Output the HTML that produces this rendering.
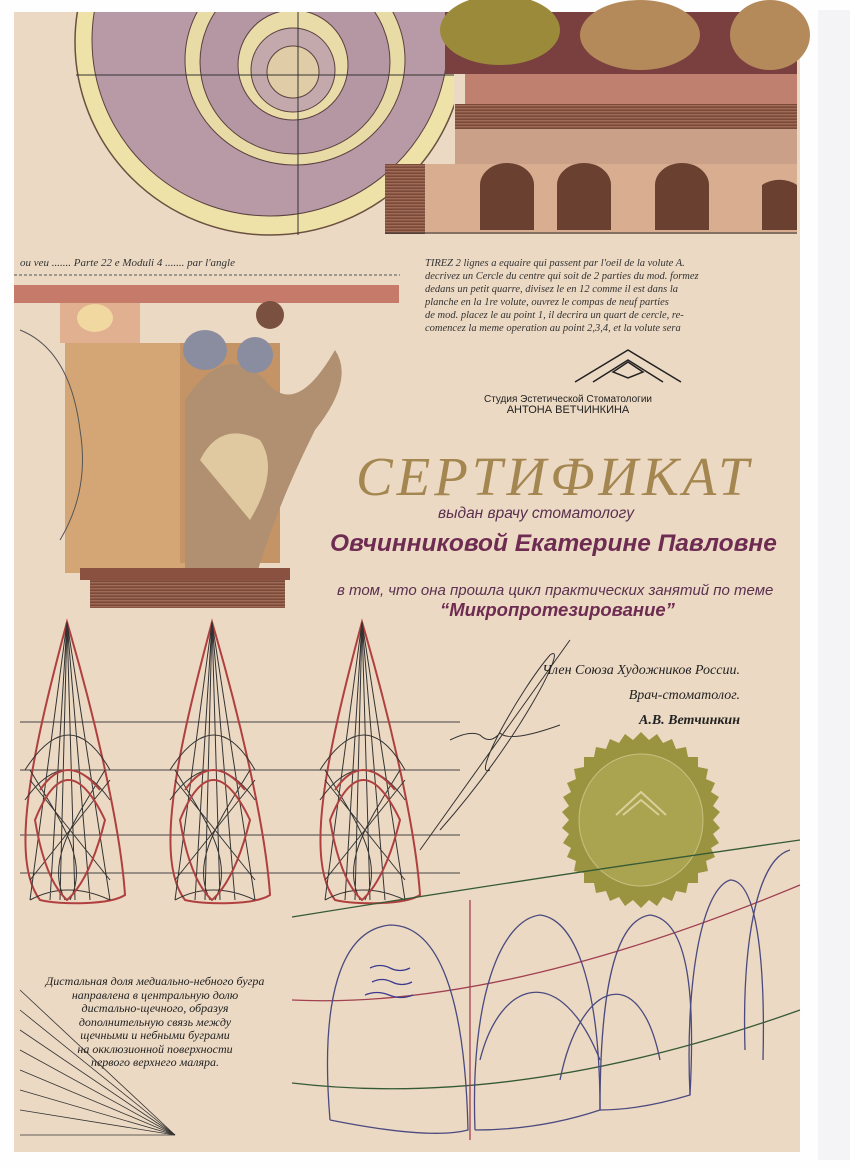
<!DOCTYPE html>
<html><head><meta charset="utf-8"><style>
html,body{margin:0;padding:0;background:#fff;}
body{width:850px;height:1169px;position:relative;overflow:hidden;font-family:"Liberation Sans",sans-serif;}
.t{position:absolute;white-space:nowrap;}
</style></head><body>
<svg width="850" height="1169" style="position:absolute;left:0;top:0">
<defs>
<pattern id="h" width="3" height="3" patternUnits="userSpaceOnUse"><rect width="3" height="3" fill="#7a4a3a"/><rect width="3" height="1.4" fill="#a06a55"/></pattern>
</defs>
<rect x="0" y="0" width="850" height="1169" fill="#fefefe"/>
<rect x="14" y="12" width="786" height="1140" fill="#ecd9c3"/>
<rect x="818" y="10" width="32" height="1150" fill="#f4f4f6"/>
<g>
<clipPath id="cc"><rect x="14" y="12" width="440" height="230"/></clipPath>
<g clip-path="url(#cc)">
<ellipse cx="270" cy="42" rx="195" ry="193" fill="#efe2a8" stroke="#6a5040" stroke-width="1.5"/>
<ellipse cx="270" cy="40" rx="178" ry="176" fill="#b79aa5" stroke="#5a4040"/>
<ellipse cx="295" cy="60" rx="110" ry="105" fill="#e9dba5" stroke="#5a4040"/>
<ellipse cx="295" cy="62" rx="95" ry="92" fill="#b497a2" stroke="#5a4040"/>
<ellipse cx="293" cy="65" rx="55" ry="55" fill="#eadca8" stroke="#5a4040"/>
<ellipse cx="293" cy="70" rx="42" ry="42" fill="#c3a9ac" stroke="#5a4040"/>
<ellipse cx="293" cy="72" rx="26" ry="26" fill="#e0cca6" stroke="#5a4040"/>
<line x1="76" y1="75" x2="465" y2="75" stroke="#333" stroke-width="1"/>
<line x1="298" y1="12" x2="298" y2="235" stroke="#333" stroke-width="1"/>
</g>
</g>
<rect x="445" y="12" width="352" height="62" fill="#7a4040"/>
<ellipse cx="500" cy="30" rx="60" ry="35" fill="#9a8a3a"/>
<ellipse cx="640" cy="35" rx="60" ry="35" fill="#b58a5a"/>
<ellipse cx="770" cy="35" rx="40" ry="35" fill="#b58a5a"/>
<rect x="465" y="74" width="332" height="30" fill="#c08070"/>
<rect x="455" y="104" width="342" height="25" fill="url(#h)"/>
<rect x="455" y="129" width="342" height="35" fill="#caa088"/>
<rect x="385" y="164" width="412" height="70" fill="#d9ae90"/>
<rect x="385" y="164" width="40" height="70" fill="url(#h)"/>
<g fill="#6a4030">
<path d="M480 230 V185 a27 22 0 0 1 54 0 V230Z"/>
<path d="M557 230 V185 a27 22 0 0 1 54 0 V230Z"/>
<path d="M655 230 V185 a27 22 0 0 1 54 0 V230Z"/>
<path d="M762 230 V185 a27 22 0 0 1 35 0 V230Z"/>
</g>
<line x1="385" y1="233" x2="797" y2="233" stroke="#333"/>
<rect x="14" y="285" width="385" height="18" fill="#c67a6a"/>
<line x1="14" y1="275" x2="400" y2="275" stroke="#555" stroke-dasharray="3 2"/>
<rect x="60" y="303" width="80" height="40" fill="#e0b090"/>
<ellipse cx="95" cy="318" rx="18" ry="14" fill="#f1d7a0"/>
<rect x="65" y="343" width="120" height="230" fill="#d4a676"/>
<rect x="180" y="343" width="100" height="220" fill="#c49466"/>
<path d="M185 400 q40 -60 80 -20 q30 40 70 -30 q20 30 -20 80 q-40 80 -60 150 h-70z" fill="#b09070"/>
<path d="M200 460 q20 -40 60 -20 q20 30 -10 80 z" fill="#e0c8a0"/>
<circle cx="270" cy="315" r="14" fill="#7a5040"/>
<ellipse cx="205" cy="350" rx="22" ry="20" fill="#8a8ca0"/>
<ellipse cx="255" cy="355" rx="18" ry="18" fill="#8a8ca0"/>
<rect x="80" y="568" width="210" height="12" fill="#8a5040"/>
<rect x="90" y="580" width="195" height="28" fill="url(#h)"/>
<path d="M20 330 q50 20 60 100 q10 60 -20 110" stroke="#555" fill="none"/>
<g fill="none" stroke-width="1">
<g stroke="#444">
<line x1="20" y1="722" x2="460" y2="722"/><line x1="20" y1="770" x2="460" y2="770"/><line x1="20" y1="835" x2="460" y2="835"/><line x1="20" y1="873" x2="460" y2="873"/>
</g>
<g id="c1">
<path d="M67 622 C30 760 10 860 40 900 C60 905 110 905 125 895 C120 820 90 700 67 622Z" stroke="#b04040" stroke-width="2"/>
<path d="M67 622 L30 900 M67 622 L110 900 M67 622 L50 900 M67 622 L90 900 M67 622 L60 900 M67 622 L75 900 M30 780 L110 880 M110 780 L30 880 M25 800 Q67 740 110 800 M25 770 Q70 700 110 770 M30 770 C60 820 90 860 70 900 M105 770 C75 820 45 860 65 900 M30 900 Q67 880 110 900" stroke="#333"/>
<path d="M35 820 Q67 740 105 820 Q90 880 67 900 Q45 880 35 820Z" stroke="#b04040" stroke-width="2"/>
<path d="M40 790 Q67 750 100 790" stroke="#b04040" stroke-width="2"/>
</g>
<use href="#c1" x="145"/>
<use href="#c1" x="295"/>
</g>
<path d="M420 850 L570 640 M440 830 C520 740 570 640 550 655 C520 690 470 780 490 770 M450 740 q20 -10 30 -5 q10 10 20 -2 q10 10 60 -8" stroke="#333" fill="none" stroke-width="1"/>
<g transform="translate(641,820)">
<polygon fill="#9a9440" points="
0,-88 8,-80 16,-86 22,-77 31,-81 35,-71 45,-73 47,-63 57,-63 57,-53 67,-51 65,-41 74,-37 70,-28 78,-23 72,-14 79,-8 72,0 79,8 72,14 78,23 70,28 74,37 65,41 67,51 57,53 57,63 47,63 45,73 35,71 31,81 22,77 16,86 8,80 0,88 -8,80 -16,86 -22,77 -31,81 -35,71 -45,73 -47,63 -57,63 -57,53 -67,51 -65,41 -74,37 -70,28 -78,23 -72,14 -79,8 -72,0 -79,-8 -72,-14 -78,-23 -70,-28 -74,-37 -65,-41 -67,-51 -57,-53 -57,-63 -47,-63 -45,-73 -35,-71 -31,-81 -22,-77 -16,-86 -8,-80"/>
<ellipse rx="62" ry="66" fill="#aaa350" stroke="#c8c080"/>
<path d="M-25 -5 L0 -28 L25 -5 M-18 -5 L0 -20 L18 -5" stroke="#d8d098" fill="none" stroke-width="2"/>
</g>
<g fill="none" stroke-width="1.3">
<path d="M292 917 Q520 880 800 840" stroke="#355a35"/>
<path d="M292 1000 Q500 1010 800 885" stroke="#a04050"/>
<path d="M292 1083 Q520 1110 800 1010" stroke="#355a35"/>
<line x1="470" y1="900" x2="470" y2="1140" stroke="#a04050"/>
<g stroke="#4a4a80">
<path d="M330 1120 C320 1000 340 930 390 925 C440 925 465 1000 468 1130 Q430 1140 330 1120"/>
<path d="M475 1130 C470 1000 500 920 540 915 C580 920 600 1000 600 1110 Q540 1130 475 1130"/>
<path d="M600 1110 C600 990 615 920 650 915 C690 920 695 1000 690 1095 Q640 1110 600 1110"/>
<path d="M690 1095 C685 990 700 890 730 880 C760 880 765 980 763 1060"/>
<path d="M745 1050 C742 950 755 860 790 850"/>
<path d="M480 1060 C500 980 560 960 600 1060 M560 1080 C580 980 640 960 660 1060"/>
</g>
<path d="M370 968 q10 -5 20 0 q10 5 20 0 M372 982 q10 -5 20 0 q10 5 20 0 M365 995 q12 -5 24 0 q12 5 24 0" stroke="#3a3a90"/>
</g>
<g stroke="#333" stroke-width="0.8">
<line x1="175" y1="1135" x2="20" y2="990"/><line x1="175" y1="1135" x2="20" y2="1010"/><line x1="175" y1="1135" x2="20" y2="1030"/><line x1="175" y1="1135" x2="20" y2="1050"/><line x1="175" y1="1135" x2="20" y2="1070"/><line x1="175" y1="1135" x2="20" y2="1090"/><line x1="175" y1="1135" x2="20" y2="1110"/><line x1="175" y1="1135" x2="20" y2="1135"/>
</g>
</svg>

<div class="t" style="left:478px;top:348px;width:300px;text-align:center">
<svg width="110" height="36" viewBox="0 0 110 36"><path d="M2 34 L55 2 L108 34 M20 34 L55 12 L90 34 M40 24 L55 14 L70 24 L55 30Z" stroke="#222" fill="none" stroke-width="1.5"/></svg>
</div>
<div class="t" style="left:468px;top:395px;width:200px;text-align:center;font-size:10px;line-height:10px;color:#222">Студия Эстетической Стоматологии<br><span style="font-size:11px">АНТОНА ВЕТЧИНКИНА</span></div>
<div class="t" style="left:356px;top:445px;font-family:'Liberation Serif',serif;font-style:italic;font-size:55px;color:#a48650;letter-spacing:4px">СЕРТИФИКАТ</div>
<div class="t" style="left:438px;top:505px;font-style:italic;font-size:15.5px;color:#5a3050">выдан врачу стоматологу</div>
<div class="t" style="left:330px;top:530px;font-style:italic;font-weight:bold;font-size:24.5px;color:#6e2c52">Овчинниковой Екатерине Павловне</div>
<div class="t" style="left:337px;top:582px;font-style:italic;font-size:15px;color:#5a3050">в том, что она прошла цикл практических занятий по теме</div>
<div class="t" style="left:440px;top:599px;font-style:italic;font-weight:bold;font-size:18.5px;color:#6e2c52">“Микропротезирование”</div>
<div class="t" style="left:540px;top:658px;width:200px;text-align:right;font-family:'Liberation Serif',serif;font-style:italic;font-size:14px;color:#222;line-height:25px">Член Союза Художников России.<br>Врач-стоматолог.<br><b>А.В. Ветчинкин</b></div>
<div class="t" style="left:20px;top:257px;font-family:'Liberation Serif',serif;font-style:italic;font-size:11px;color:#333">ou veu ....... Parte 22 e Moduli 4 ....... par l'angle</div>
<div class="t" style="left:425px;top:257px;font-family:'Liberation Serif',serif;font-style:italic;font-size:10.5px;line-height:13px;color:#333">TIREZ 2 lignes a equaire qui passent par l'oeil de la volute A.<br>decrivez un Cercle du centre qui soit de 2 parties du mod. formez<br>dedans un petit quarre, divisez le en 12 comme il est dans la<br>planche en la 1re volute, ouvrez le compas de neuf parties<br>de mod. placez le au point 1, il decrira un quart de cercle, re-<br>comencez la meme operation au point 2,3,4, et la volute sera</div>
<div class="t" style="left:30px;top:975px;width:250px;text-align:center;font-family:'Liberation Serif',serif;font-style:italic;font-size:12px;line-height:13.5px;color:#222">Дистальная доля медиально-небного бугра<br>направлена в центральную долю<br>дистально-щечного, образуя<br>дополнительную связь между<br>щечными и небными буграми<br>на окклюзионной поверхности<br>первого верхнего маляра.</div>
</body></html>
